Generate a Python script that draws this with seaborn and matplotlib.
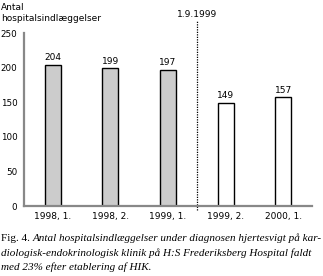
import matplotlib
matplotlib.use("Agg")
import matplotlib.pyplot as plt
import seaborn as sns
import pandas as pd

categories = ["1998, 1.", "1998, 2.", "1999, 1.", "1999, 2.", "2000, 1."]
values = [204, 199, 197, 149, 157]
bar_colors = ["#cccccc", "#cccccc", "#cccccc", "#ffffff", "#ffffff"]
yticks = [0, 50, 100, 150, 200, 250]

sns.set_style("white")
plt.rcParams['font.family'] = ['DejaVu Sans']
plt.rcParams['text.color'] = 'black'
plt.rcParams['xtick.color'] = 'black'
plt.rcParams['ytick.color'] = 'black'

df = pd.DataFrame({"cat": categories, "val": values})

fig = plt.figure(figsize=(3.23, 2.76), dpi=100)
ax = fig.add_axes([0.0743, 0.2536, 0.8917, 0.6264])

sns.barplot(data=df, x="cat", y="val", hue="cat", palette=bar_colors,
            width=0.28, edgecolor="black", linewidth=1.0, legend=False,
            ax=ax, saturation=1)

for p, v in zip(ax.patches, values):
    ax.text(p.get_x() + p.get_width() / 2, v + 4, str(v), ha="center",
            va="bottom", fontsize=6.5, color="black")

ax.set_xlim(-0.5, 4.5)
ax.set_ylim(0, 250)
ax.set_yticks(yticks)
ax.set_yticklabels([str(t) for t in yticks], fontsize=6.3)
ax.set_xticks(range(len(categories)))
ax.set_xticklabels(categories, fontsize=6.5)
ax.tick_params(axis="x", which="major", length=0, pad=4, labelcolor="black")
ax.set_xticks([0.5, 1.5, 3.5, 4.5], minor=True)
ax.tick_params(axis="x", which="minor", length=3, width=0.8, color="#444444", direction="inout")
ax.tick_params(axis="y", length=3.5, width=0.8, color="#333333", direction="out", pad=1.2,
               labelcolor="black")
ax.set_xlabel("")
ax.set_ylabel("")

for s in ["top", "right"]:
    ax.spines[s].set_visible(False)
for s in ["left", "bottom"]:
    ax.spines[s].set_color("#888888")
    ax.spines[s].set_linewidth(1.6)

ax.plot([2.5, 2.5], [-6, 268], linestyle=(0, (1, 1)), color="black",
        linewidth=0.9, clip_on=False)
ax.text(2.5, 271, "1.9.1999", ha="center", va="bottom", fontsize=6.5, color="black")

fig.text(0.003, 0.99, "Antal\nhospitalsindlæggelser", ha="left", va="top",
         fontsize=6.5, linespacing=1.25, color="black")

cap_font = "Liberation Serif"
fs = 8.0
t1 = fig.text(0.003, 0.127, "Fig. 4. ", family=cap_font, fontsize=fs, va="baseline",
              color="black")
ax.annotate("Antal hospitalsindlæggelser under diagnosen hjertesvigt på kar-",
            xy=(1, 0), xycoords=t1, ha="left", va="bottom",
            family=cap_font, fontsize=fs, style="italic", color="black")
fig.text(0.003, 0.073, "diologisk-endokrinologisk klinik på H:S Frederiksberg Hospital faldt",
         family=cap_font, fontsize=fs, style="italic", va="baseline", color="black")
fig.text(0.003, 0.022, "med 23% efter etablering af HIK.",
         family=cap_font, fontsize=fs, style="italic", va="baseline", color="black")

fig.savefig("out.png", dpi=100)
